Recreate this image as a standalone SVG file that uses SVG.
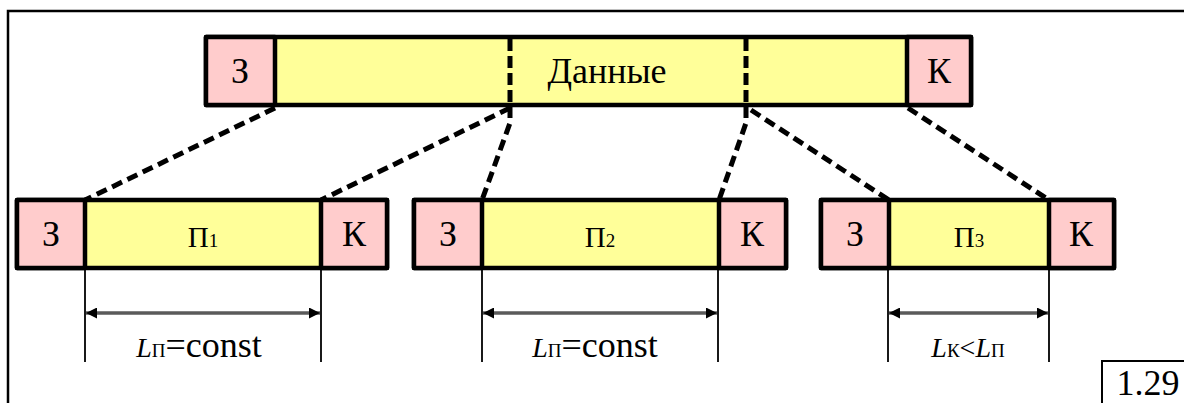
<svg xmlns="http://www.w3.org/2000/svg" width="1184" height="403" viewBox="0 0 1184 403">
<defs>
<marker id="ah" viewBox="0 0 10 10" refX="10" refY="5" markerWidth="15" markerHeight="11" markerUnits="userSpaceOnUse" orient="auto-start-reverse">
<path d="M0,0 L10,5 L0,10 z" fill="#000"/>
</marker>
</defs>
<rect x="0" y="0" width="1184" height="403" fill="#fff"/>
<path d="M8,404 V11 H1190" fill="none" stroke="#000" stroke-width="2.5"/>
<g id="connectors" fill="none" stroke="#000" stroke-width="5" stroke-dasharray="11 6">
<path d="M275,108 L85,200"/>
<path d="M510,108 L321,200"/>
<path d="M510,107 V123 L482,200"/>
<path d="M746,107 V123 L719,200"/>
<path d="M751,110 L889,200"/>
<path d="M908,108 L1049,200"/>
</g>
<g id="top">
<g stroke="#000" stroke-width="4.5" stroke-linejoin="round">
<rect x="206" y="37" width="765" height="68" fill="#FFFF99"/>
<rect x="206" y="37" width="69" height="68" fill="#FFCCCC"/>
<rect x="907" y="37" width="64" height="68" fill="#FFCCCC"/>
</g>
<g stroke="#000" stroke-width="5" stroke-dasharray="12 5">
<line x1="510" y1="39" x2="510" y2="105"/>
<line x1="746" y1="39" x2="746" y2="105"/>
</g>
<text transform="translate(240,83) scale(1.2857)" font-family="'Liberation Serif', serif" font-size="28" text-anchor="middle">З</text>
<text transform="translate(607,83) scale(1.2857)" font-family="'Liberation Serif', serif" font-size="28" text-anchor="middle">Данные</text>
<text transform="translate(939,83) scale(1.2857)" font-family="'Liberation Serif', serif" font-size="28" text-anchor="middle">К</text>
</g>
<g id="p1">
<g stroke="#000" stroke-width="4.5" stroke-linejoin="round">
<rect x="17" y="200" width="370" height="68" fill="#FFFF99"/>
<rect x="17" y="200" width="68" height="68" fill="#FFCCCC"/>
<rect x="321" y="200" width="66" height="68" fill="#FFCCCC"/>
</g>
<text transform="translate(51,246) scale(1.2857)" font-family="'Liberation Serif', serif" font-size="28" text-anchor="middle">З</text>
<text x="203" y="247" font-family="'Liberation Serif', serif" font-size="29" text-anchor="middle">П<tspan font-size="19">1</tspan></text>
<text transform="translate(354,246) scale(1.2857)" font-family="'Liberation Serif', serif" font-size="28" text-anchor="middle">К</text>
</g>
<g id="p2">
<g stroke="#000" stroke-width="4.5" stroke-linejoin="round">
<rect x="414" y="200" width="372" height="68" fill="#FFFF99"/>
<rect x="414" y="200" width="68" height="68" fill="#FFCCCC"/>
<rect x="719" y="200" width="67" height="68" fill="#FFCCCC"/>
</g>
<text transform="translate(448,246) scale(1.2857)" font-family="'Liberation Serif', serif" font-size="28" text-anchor="middle">З</text>
<text x="600" y="247" font-family="'Liberation Serif', serif" font-size="29" text-anchor="middle">П<tspan font-size="19">2</tspan></text>
<text transform="translate(752,246) scale(1.2857)" font-family="'Liberation Serif', serif" font-size="28" text-anchor="middle">К</text>
</g>
<g id="p3">
<g stroke="#000" stroke-width="4.5" stroke-linejoin="round">
<rect x="821" y="200" width="293" height="68" fill="#FFFF99"/>
<rect x="821" y="200" width="68" height="68" fill="#FFCCCC"/>
<rect x="1049" y="200" width="65" height="68" fill="#FFCCCC"/>
</g>
<text transform="translate(855,246) scale(1.2857)" font-family="'Liberation Serif', serif" font-size="28" text-anchor="middle">З</text>
<text x="969" y="247" font-family="'Liberation Serif', serif" font-size="29" text-anchor="middle">П<tspan font-size="19">3</tspan></text>
<text transform="translate(1081,246) scale(1.2857)" font-family="'Liberation Serif', serif" font-size="28" text-anchor="middle">К</text>
</g>
<g id="dim1">
<g stroke="#000" stroke-width="1.8">
<line x1="85" y1="268" x2="85" y2="362"/>
<line x1="321" y1="268" x2="321" y2="362"/>
</g>
<line x1="86" y1="313" x2="320" y2="313" stroke="#5a5a5a" stroke-width="3.5" marker-start="url(#ah)" marker-end="url(#ah)"/>
<text transform="translate(199,357) scale(1.2857)" font-family="'Liberation Serif', serif" font-size="28" text-anchor="middle"><tspan font-style="italic" font-size="21.8">L</tspan><tspan font-size="14.8">П</tspan>=const</text>
</g>
<g id="dim2">
<g stroke="#000" stroke-width="1.8">
<line x1="482" y1="268" x2="482" y2="362"/>
<line x1="718" y1="268" x2="718" y2="362"/>
</g>
<line x1="483" y1="313" x2="717" y2="313" stroke="#5a5a5a" stroke-width="3.5" marker-start="url(#ah)" marker-end="url(#ah)"/>
<text transform="translate(595,357) scale(1.2857)" font-family="'Liberation Serif', serif" font-size="28" text-anchor="middle"><tspan font-style="italic" font-size="21.8">L</tspan><tspan font-size="14.8">П</tspan>=const</text>
</g>
<g id="dim3">
<g stroke="#000" stroke-width="1.8">
<line x1="888" y1="268" x2="888" y2="362"/>
<line x1="1049" y1="268" x2="1049" y2="362"/>
</g>
<line x1="889" y1="313" x2="1048" y2="313" stroke="#5a5a5a" stroke-width="3.5" marker-start="url(#ah)" marker-end="url(#ah)"/>
<text x="968" y="357" font-family="'Liberation Serif', serif" font-size="28" text-anchor="middle"><tspan font-style="italic">L</tspan><tspan font-size="19">К</tspan>&lt;<tspan font-style="italic">L</tspan><tspan font-size="19">П</tspan></text>
</g>
<g id="label">
<path d="M1102,404 V361 H1190" fill="none" stroke="#000" stroke-width="2"/>
<text transform="translate(1148,395) scale(1.2857)" font-family="'Liberation Serif', serif" font-size="28" text-anchor="middle">1.29</text>
</g>
</svg>
